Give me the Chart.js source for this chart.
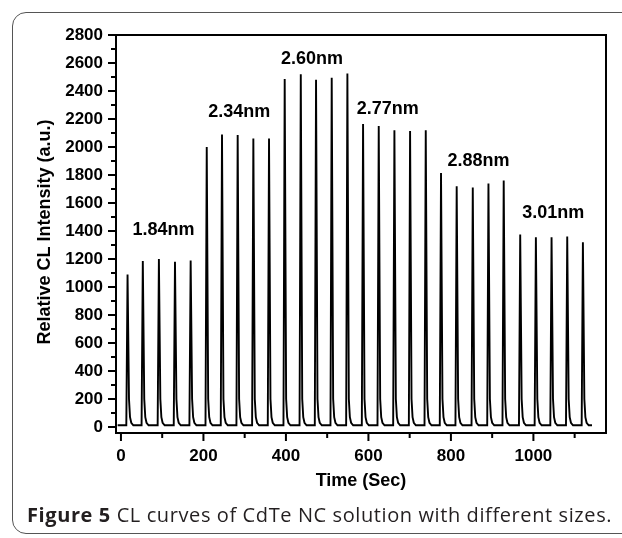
<!DOCTYPE html>
<html>
<head>
<meta charset="utf-8">
<script src="https://cdn.jsdelivr.net/npm/chart.js@4.4.1/dist/chart.umd.min.js"></script>
<style>
  html, body { margin: 0; padding: 0; background: #fff; overflow: hidden; }
  #wrap { position: relative; width: 622px; height: 538px; overflow: hidden; }
  #frame { position: absolute; left: 12px; top: 12px; width: 660px; height: 522px;
           border: 1.5px solid #555; border-radius: 14px; box-sizing: border-box; }
  #c { position: absolute; left: 0; top: 0; }
  #caption { position: absolute; left: 27px; top: 502px; font-family: "Open Sans", sans-serif;
             font-size: 20px; line-height: 26px; color: #231f20; white-space: nowrap; letter-spacing: 0.6px; }
  #caption b { font-weight: 700; }
</style>
</head>
<body>
<div id="wrap">
  <div id="frame"></div>
  <canvas id="c" width="622" height="538"></canvas>
  <div id="caption"><b>Figure 5</b> CL curves of CdTe NC solution with different sizes.</div>
</div>
<script>
// ---- data ----
const peakTimes   = [16, 53, 92, 131, 169, 208, 245, 283, 321, 359, 397, 436, 473, 511, 549,
                     587, 625, 663, 701, 739, 776, 814, 853, 891, 928, 968, 1006, 1044, 1082, 1120];
const peakHeights = [1090, 1185, 1200, 1180, 1190, 2000, 2090, 2085, 2060, 2060,
                     2485, 2520, 2480, 2495, 2525, 2165, 2150, 2120, 2115, 2120,
                     1815, 1720, 1710, 1740, 1760, 1375, 1355, 1355, 1360, 1320];
// shape of each peak around its top (seconds relative to the top, intensity)
const riseOffset = -3, riseValue = 12;
const tailOffsets = [3.5, 6, 9, 14];
const tailValues  = [200, 70, 30, 12];
const startPoint = [-8, 12];
const endPoint = [1142, 12];

const sizeLabels = ["1.84nm", "2.34nm", "2.60nm", "2.77nm", "2.88nm", "3.01nm"];
const sizeLabelX = [103, 287, 463, 647, 867, 1048];
const sizeLabelY = [1408, 2250, 2625, 2272, 1903, 1527];

const xTicks = [0, 200, 400, 600, 800, 1000];
const xMinorTicks = [100, 300, 500, 700, 900, 1100];
const yTicks = [0, 200, 400, 600, 800, 1000, 1200, 1400, 1600, 1800, 2000, 2200, 2400, 2600, 2800];
const yMinorTicks = [100, 300, 500, 700, 900, 1100, 1300, 1500, 1700, 1900, 2100, 2300, 2500, 2700];

const xTitle = "Time (Sec)";
const yTitle = "Relative CL Intensity (a.u.)";

// ---- build the line table ----
const points = [{x: startPoint[0], y: startPoint[1]}];
peakTimes.forEach((t, i) => {
  points.push({x: t + riseOffset, y: riseValue});
  points.push({x: t, y: peakHeights[i]});
  tailOffsets.forEach((o, k) => points.push({x: t + o, y: tailValues[k]}));
});
points.push({x: endPoint[0], y: endPoint[1]});

const FONT = "'Liberation Sans', Arial, sans-serif";

const decor = {
  id: 'decor',
  afterDraw(chart) {
    const ctx = chart.ctx, a = chart.chartArea;
    const xs = chart.scales.x, ys = chart.scales.y;
    ctx.save();
    ctx.strokeStyle = '#000';
    ctx.lineWidth = 2;
    ctx.strokeRect(a.left, a.top, a.right - a.left, a.bottom - a.top);
    ctx.beginPath();
    xTicks.forEach(v => { const p = xs.getPixelForValue(v); ctx.moveTo(p, a.bottom); ctx.lineTo(p, a.bottom + 8); });
    xMinorTicks.forEach(v => { const p = xs.getPixelForValue(v); ctx.moveTo(p, a.bottom); ctx.lineTo(p, a.bottom + 5); });
    yTicks.forEach(v => { const p = ys.getPixelForValue(v); ctx.moveTo(a.left, p); ctx.lineTo(a.left - 8, p); });
    yMinorTicks.forEach(v => { const p = ys.getPixelForValue(v); ctx.moveTo(a.left, p); ctx.lineTo(a.left - 5, p); });
    ctx.stroke();

    ctx.fillStyle = '#000';
    ctx.font = "bold 18px " + FONT;
    ctx.textAlign = 'center';
    ctx.textBaseline = 'middle';
    sizeLabels.forEach((s, i) => {
      ctx.fillText(s, xs.getPixelForValue(sizeLabelX[i]), ys.getPixelForValue(sizeLabelY[i]));
    });
    ctx.fillText(xTitle, (a.left + a.right) / 2, 481);
    ctx.translate(45, 232);
    ctx.rotate(-Math.PI / 2);
    ctx.fillText(yTitle, 0, 0);
    ctx.restore();
  }
};

new Chart(document.getElementById('c'), {
  type: 'line',
  data: { datasets: [{ data: points, borderColor: '#000', borderWidth: 1.9,
                       pointRadius: 0, tension: 0, fill: false }] },
  options: {
    responsive: false, animation: false, events: [],
    layout: { padding: { left: 0, top: 35, right: 16, bottom: 45 } },
    plugins: { legend: { display: false }, tooltip: { enabled: false } },
    scales: {
      x: {
        type: 'linear', min: -12, max: 1176,
        afterBuildTicks: s => { s.ticks = xTicks.map(v => ({value: v})); },
        afterFit: s => { s.height = 60; },
        grid: { display: false, drawTicks: false },
        border: { display: false },
        ticks: { color: '#000', font: { family: FONT, size: 17, weight: 'bold' }, padding: 13, maxRotation: 0,
                 callback: v => String(v) }
      },
      y: {
        type: 'linear', min: -43, max: 2800,
        afterBuildTicks: s => { s.ticks = yTicks.map(v => ({value: v})); },
        afterFit: s => { s.width = 116; },
        grid: { display: false, drawTicks: false },
        border: { display: false },
        ticks: { color: '#000', font: { family: FONT, size: 17, weight: 'bold' }, padding: 13,
                 callback: v => String(v) }
      }
    }
  },
  plugins: [decor]
});
</script>
</body>
</html>
